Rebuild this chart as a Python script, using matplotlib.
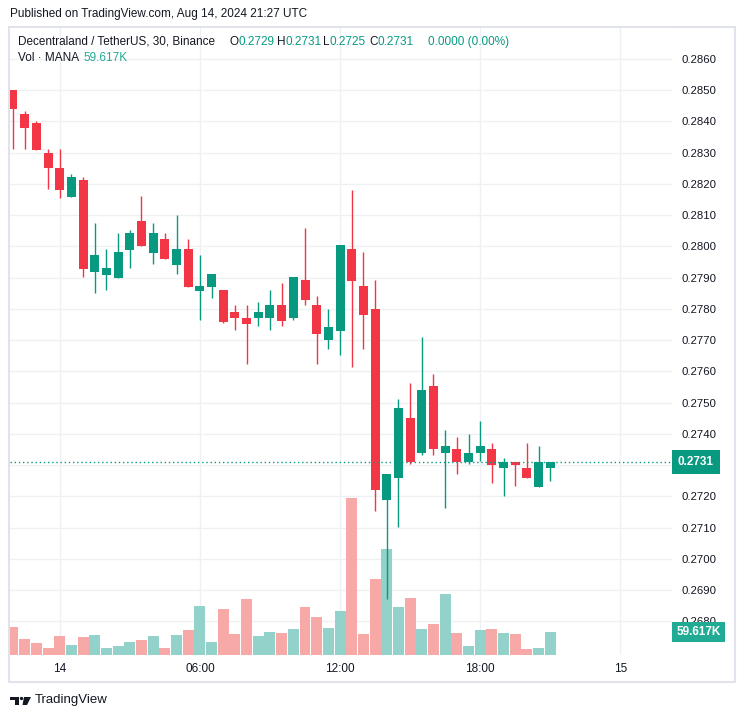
import matplotlib
matplotlib.use("Agg")
import matplotlib.pyplot as plt
import matplotlib.transforms as mtransforms
from matplotlib.patches import Rectangle, Polygon, Circle

# --- Data (30 min candles, Aug 13 22:00 -> Aug 14 21:00 UTC) ---
opens = [0.28501, 0.28422, 0.28393, 0.28300, 0.28251, 0.28159, 0.28213, 0.27918,
         0.27909, 0.27899, 0.27988, 0.28082, 0.27979, 0.28022, 0.27940, 0.27990,
         0.27858, 0.27871, 0.27860, 0.27790, 0.27771, 0.27770, 0.27769, 0.27813,
         0.27769, 0.27892, 0.27813, 0.27699, 0.27728, 0.27990, 0.27873, 0.27800,
         0.27188, 0.27258, 0.27451, 0.27337, 0.27552, 0.27337, 0.27352, 0.27309,
         0.27337, 0.27352, 0.27290, 0.27311, 0.27292, 0.27229, 0.27290]
highs = [0.28501, 0.28432, 0.28402, 0.28311, 0.28311, 0.28232, 0.28222, 0.28073,
         0.27990, 0.28041, 0.28051, 0.28162, 0.28073, 0.28041, 0.28101, 0.28022,
         0.27971, 0.27911, 0.27860, 0.27813, 0.27813, 0.27822, 0.27860, 0.27882,
         0.27901, 0.28060, 0.27841, 0.27800, 0.28003, 0.28181, 0.27981, 0.27892,
         0.27270, 0.27511, 0.27562, 0.27711, 0.27590, 0.27413, 0.27390, 0.27400,
         0.27441, 0.27371, 0.27322, 0.27311, 0.27371, 0.27362, 0.27310]
lows = [0.28311, 0.28311, 0.28309, 0.28182, 0.28154, 0.28159, 0.27902, 0.27852,
        0.27861, 0.27899, 0.27931, 0.28001, 0.27944, 0.27960, 0.27912, 0.27871,
        0.27763, 0.27833, 0.27753, 0.27731, 0.27623, 0.27744, 0.27731, 0.27744,
        0.27763, 0.27813, 0.27623, 0.27671, 0.27652, 0.27613, 0.27671, 0.27153,
        0.26871, 0.27102, 0.27303, 0.27331, 0.27331, 0.27163, 0.27271, 0.27303,
        0.27312, 0.27242, 0.27201, 0.27233, 0.27258, 0.27229, 0.27250]
closes = [0.28438, 0.28378, 0.28309, 0.28250, 0.28179, 0.28222, 0.27928, 0.27971,
          0.27930, 0.27981, 0.28041, 0.28001, 0.28041, 0.27960, 0.27990, 0.27871,
          0.27873, 0.27911, 0.27759, 0.27769, 0.27750, 0.27790, 0.27813, 0.27760,
          0.27901, 0.27829, 0.27718, 0.27743, 0.28003, 0.27890, 0.27779, 0.27220,
          0.27270, 0.27482, 0.27309, 0.27540, 0.27350, 0.27362, 0.27309, 0.27340,
          0.27362, 0.27299, 0.27311, 0.27299, 0.27258, 0.27311, 0.27310]
# volume in thousands of MANA
volumes = [72.6, 41.5, 31.1, 18.1, 49.2, 25.9, 46.7, 51.8, 18.1, 23.3, 33.7, 38.9,
           49.2, 18.1, 51.8, 64.8, 127.0, 33.7, 119.2, 54.4, 145.2, 49.2, 59.6, 57.0,
           67.4, 124.4, 98.5, 70.0, 114.0, 406.9, 54.4, 197.0, 274.8, 124.4, 147.7, 67.4,
           80.4, 158.1, 57.0, 23.3, 64.8, 67.4, 57.0, 54.4, 15.6, 18.1, 59.617]

time_ticks = [4, 16, 28, 40, 52]
time_labels = ["14", "06:00", "12:00", "18:00", "15"]
price_ticks = [0.2680, 0.2690, 0.2700, 0.2710, 0.2720, 0.2730, 0.2740, 0.2750, 0.2760,
               0.2770, 0.2780, 0.2790, 0.2800, 0.2810, 0.2820, 0.2830, 0.2840, 0.2850, 0.2860]
last_price = 0.2731
last_volume = 59.617

# --- Style ---
UP = "#089981"
DOWN = "#f23645"
VOL_UP = "#92d2ca"
VOL_DOWN = "#f7a9a8"
TEXT = "#131722"
GRID = "#eef0f4"
W, H = 745, 718

plt.rcParams["font.family"] = ["Liberation Sans", "DejaVu Sans"]

fig = plt.figure(figsize=(W / 100, H / 100), dpi=100)
fig.patch.set_facecolor("white")


def fx(x):
    return x / W


def fy(y):
    return 1 - y / H


# plot pane in pixels: x 10..672, y 28..655
rect = [fx(10), fy(655), (672 - 10) / W, (655 - 28) / H]
ax_vol = fig.add_axes(rect, zorder=1)
ax = fig.add_axes(rect, zorder=2, sharex=ax_vol)
ax.patch.set_visible(False)

idx = list(range(len(opens)))
up = [c >= o for o, c in zip(opens, closes)]
colors = [UP if u else DOWN for u in up]
vcolors = [VOL_UP if u else VOL_DOWN for u in up]

ax.set_xlim(-0.257, 56.42)
ax.set_ylim(0.266921, 0.286984)
ax_vol.set_ylim(0, last_volume * 627 / 23)

# grid (drawn on the lowest layer)
blend = mtransforms.blended_transform_factory(ax_vol.transAxes, ax.transData)
for p in price_ticks:
    ax_vol.plot([0, 1], [p, p], transform=blend, color=GRID, lw=1, zorder=0)
for t in time_ticks:
    ax_vol.axvline(t, color=GRID, lw=1, zorder=0)

# volume
ax_vol.bar(idx, volumes, width=0.94, color=vcolors, linewidth=0, zorder=2)

# candles
ax.vlines(idx, lows, highs, colors=colors, lw=1.0, zorder=3)
bottoms = [min(o, c) for o, c in zip(opens, closes)]
heights = [max(abs(c - o), 0.00004) for o, c in zip(opens, closes)]
ax.bar(idx, heights, bottom=bottoms, width=0.77, color=colors, linewidth=0, zorder=4)

ax.axhline(last_price, color=UP, lw=1, linestyle=(0, (1, 2)), zorder=5)

# axes cosmetics
for a in (ax, ax_vol):
    for s in a.spines.values():
        s.set_visible(False)
ax_vol.set_yticks([])
ax_vol.tick_params(axis="x", length=0, labelbottom=False)

ax.yaxis.tick_right()
ax.set_yticks(price_ticks)
ax.set_yticklabels(["" if abs(p - 0.2730) < 1e-9 else f"{p:.4f}" for p in price_ticks])
ax.tick_params(axis="y", length=0, pad=6.5, labelsize=8.2, labelcolor=TEXT)
ax.set_xticks(time_ticks)
ax.set_xticklabels(time_labels)
ax.tick_params(axis="x", length=0, pad=6, labelsize=8.5, labelcolor=TEXT)

# last price / last volume tags
tag_x = 1 + 6.0 / 662
ax.text(tag_x, last_price, f"{last_price:.4f}",
        transform=mtransforms.blended_transform_factory(ax.transAxes, ax.transData),
        ha="left", va="center", color="white", fontsize=8.5, fontweight="bold",
        bbox=dict(boxstyle="square,pad=0.5", fc=UP, ec="none"), zorder=10, clip_on=False)
ax.text(tag_x - 1.5 / 662, last_volume, "59.617K",
        transform=mtransforms.blended_transform_factory(ax.transAxes, ax_vol.transData),
        ha="left", va="center", color="white", fontsize=8.5, fontweight="bold",
        bbox=dict(boxstyle="square,pad=0.35", fc="#22ab94", ec="none"), zorder=10, clip_on=False)

# header
fig.text(fx(10), fy(14), "Published on TradingView.com, Aug 14, 2024 21:27 UTC",
         fontsize=8.5, color=TEXT, va="center")
fig.text(fx(18), fy(42), "Decentraland / TetherUS, 30, Binance",
         fontsize=8.5, color=TEXT, va="center")
legend_parts = [(230, "O", TEXT), (238, "0.2729", UP), (277, "H", TEXT), (285, "0.2731", UP),
                (323, "L", TEXT), (330, "0.2725", UP), (369, "C", TEXT), (377, "0.2731", UP),
                (428, "0.0000 (0.00%)", UP)]
for x, s, c in legend_parts:
    fig.text(fx(x), fy(42), s, fontsize=8.5, color=c, va="center")
fig.text(fx(18), fy(58), "Vol \u00b7 MANA", fontsize=8.5, color=TEXT, va="center")
fig.text(fx(83), fy(58), "59.617K", fontsize=8.5, color="#22ab94", va="center")

# outer frame
fig.patches.append(Rectangle((fx(9), fy(682)), (735 - 9) / W, (682 - 27) / H,
                             transform=fig.transFigure, fill=False,
                             ec="#e0e3eb", lw=1.5, zorder=0))

# TradingView logo
logo = [
    Rectangle((fx(10), fy(700)), 9 / W, 3.5 / H),
    Rectangle((fx(15), fy(705)), 4 / W, 8 / H),
    Polygon([(fx(24), fy(697)), (fx(31), fy(697)), (fx(27), fy(705)), (fx(22.5), fy(705))]),
]
for p in logo:
    p.set_transform(fig.transFigure)
    p.set_facecolor(TEXT)
    p.set_edgecolor("none")
    fig.patches.append(p)
dot = Circle((fx(21.5), fy(698.5)), 1.7 / W, transform=fig.transFigure, fc=TEXT, ec="none")
fig.patches.append(dot)
fig.text(fx(35), fy(700), "TradingView", fontsize=9.5, color=TEXT, va="center")

fig.savefig("out.png", dpi=100, facecolor="white")
